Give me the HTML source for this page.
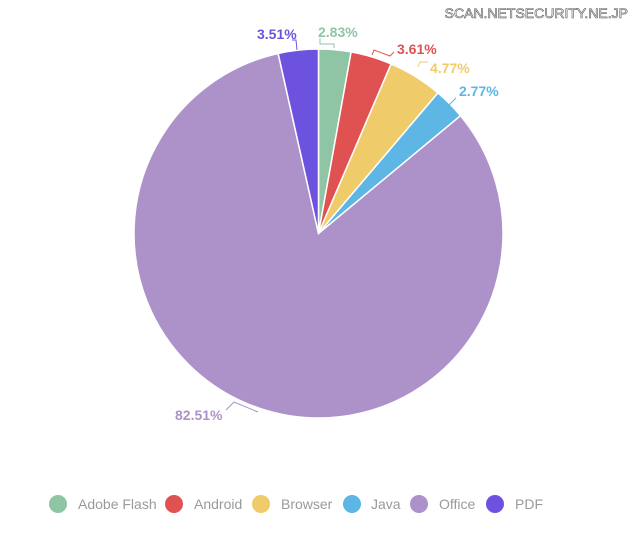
<!DOCTYPE html><html><head><style>body{margin:0;background:#fff;width:640px;height:545px;overflow:hidden;font-family:"Liberation Sans",sans-serif}</style></head><body>
<svg id="s" width="640" height="545" xmlns="http://www.w3.org/2000/svg">
<text x="628" y="18" text-anchor="end" font-size="14" fill="#fff" stroke="#555" stroke-width="0.6" font-family="Liberation Sans">SCAN.NETSECURITY.NE.JP</text>
<g id="p"></g>
<g fill="none" stroke-width="1">
<polyline points="297,50 296,40 292,40" stroke="#6c52de"/>
<polyline points="334,48 334,44 320,44 320,38" stroke="#8fc4a5"/>
<polyline points="372,55 374,50 390,56 394,52" stroke="#e05252"/>
<polyline points="418,67 420,62 428,62" stroke="#f0cb6a"/>
<polyline points="446,108 456,98" stroke="#5db6e4"/>
<polyline points="258,412 234,402 226,410" stroke="#ac92c8"/>
</g>
<g font-size="14" font-weight="bold">
<text x="257" y="39" fill="#6c52de">3.51%</text>
<text x="318" y="37" fill="#8fc4a5">2.83%</text>
<text x="397" y="54" fill="#e05252">3.61%</text>
<text x="430" y="73" fill="#f0cb6a">4.77%</text>
<text x="459" y="96" fill="#5db6e4">2.77%</text>
<text x="175" y="420" fill="#ac92c8">82.51%</text>
</g>
<g font-size="14" fill="#9a9a9a">
<circle cx="58" cy="504" r="9" fill="#8fc4a5"/><text x="78" y="509">Adobe Flash</text>
<circle cx="174" cy="504" r="9" fill="#e05252"/><text x="194" y="509">Android</text>
<circle cx="261" cy="504" r="9" fill="#f0cb6a"/><text x="281" y="509">Browser</text>
<circle cx="352" cy="504" r="9" fill="#5db6e4"/><text x="371" y="509">Java</text>
<circle cx="419" cy="504" r="9" fill="#ac92c8"/><text x="439" y="509">Office</text>
<circle cx="495" cy="504" r="9" fill="#6c52de"/><text x="515" y="509">PDF</text>
</g>
</svg>
<script>
var d=[[2.83,"#8fc4a5"],[3.61,"#e05252"],[4.77,"#f0cb6a"],[2.77,"#5db6e4"],[82.51,"#ac92c8"],[3.51,"#6c52de"]];
var cx=318.5,cy=233.5,r=184.5,a=-Math.PI/2,h="";
d.forEach(function(s){var b=a+s[0]/100*2*Math.PI;
var x1=cx+r*Math.cos(a),y1=cy+r*Math.sin(a),x2=cx+r*Math.cos(b),y2=cy+r*Math.sin(b);
h+='<path d="M'+cx+','+cy+'L'+x1+','+y1+'A'+r+','+r+' 0 '+(b-a>Math.PI?1:0)+' 1 '+x2+','+y2+'Z" fill="'+s[1]+'" stroke="#fff" stroke-width="1.5"/>';a=b;});
document.getElementById("p").innerHTML=h;
</script>
</body></html>
